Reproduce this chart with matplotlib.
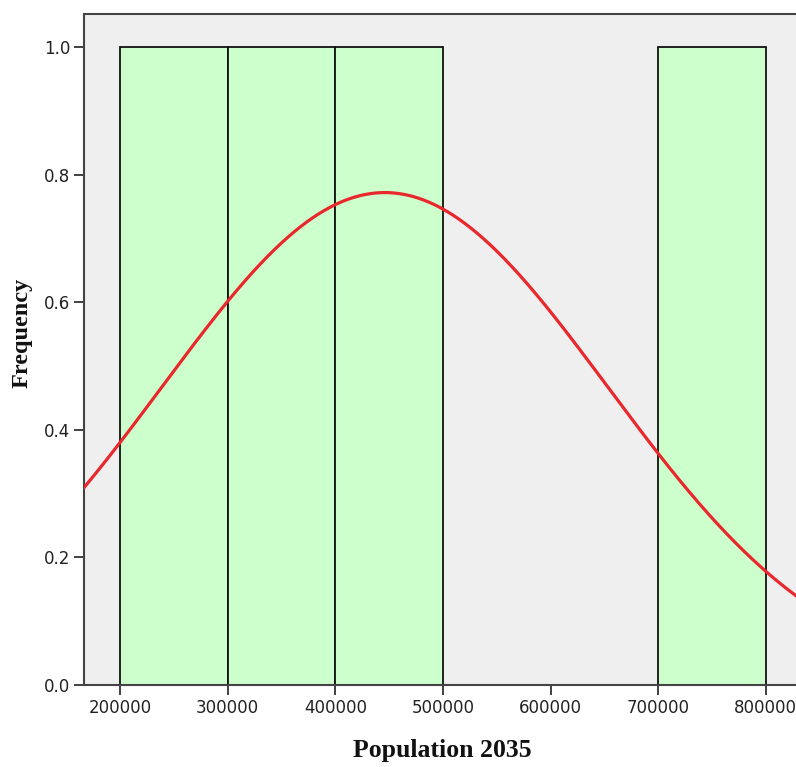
import numpy as np
import matplotlib
matplotlib.use("Agg")
import matplotlib.pyplot as plt

# Data
bin_edges = [200000, 300000, 400000, 500000, 600000, 700000, 800000]
frequencies = [1, 1, 1, 0, 0, 1]
n_cases = 4
mean_value = 446000
std_value = 206700
x_ticks = [200000, 300000, 400000, 500000, 600000, 700000, 800000]
y_ticks = [0.0, 0.2, 0.4, 0.6, 0.8, 1.0]

W, H = 796, 767
fig = plt.figure(figsize=(W/100, H/100), dpi=100)
ax = fig.add_axes([84/W, 1-685/H, 1-84/W, (685-14)/H])
ax.set_facecolor("#EFEFEF")

lefts = bin_edges[:-1]
widths = np.diff(bin_edges)
for l, w, f in zip(lefts, widths, frequencies):
    if f > 0:
        ax.bar(l, f, width=w, align="edge", color="#CCFFCC", edgecolor="#111111",
               linewidth=1.3, zorder=2)

xs = np.linspace(150000, 850000, 600)
bw = bin_edges[1] - bin_edges[0]
ys = n_cases * bw / (std_value * np.sqrt(2*np.pi)) * np.exp(-0.5*((xs-mean_value)/std_value)**2)
ax.plot(xs, ys, color="#E8282C", linewidth=2.3, zorder=3)

ax.set_xlim(166500, 828000)
ax.set_ylim(0, 1.052)
ax.set_xticks(x_ticks)
ax.set_xticklabels([str(v) for v in x_ticks])
ax.set_yticks(y_ticks)
ax.set_yticklabels([f"{v:.1f}" for v in y_ticks])
ax.tick_params(axis="both", direction="out", length=7, width=1.3, color="#333333",
               labelsize=12, labelcolor="#222222", pad=3)

for s in ["left", "top", "bottom"]:
    ax.spines[s].set_color("#444444")
    ax.spines[s].set_linewidth(1.5)
ax.spines["right"].set_visible(False)

fig.text(442/W, 1-750/H, "Population 2035", fontfamily="Liberation Serif",
         fontweight="bold", fontsize=18.5, ha="center", va="center", color="#111111")
fig.text(22/W, 1-333/H, "Frequency", fontfamily="Liberation Serif",
         fontweight="bold", fontsize=17.5, ha="center", va="center", rotation=90,
         color="#111111")

fig.savefig("out.png", dpi=100)
